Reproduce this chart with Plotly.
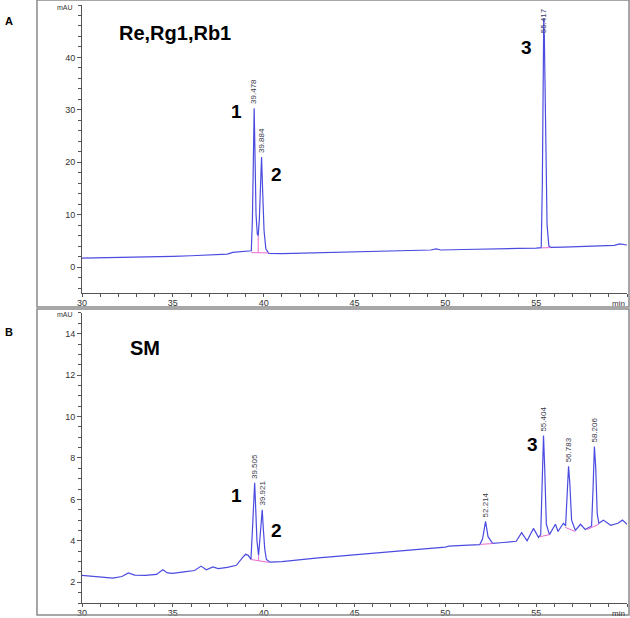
import plotly.graph_objects as go
from plotly.subplots import make_subplots

# Panel A: standards Re, Rg1, Rb1 (time in min, signal in mAU)
time_a = [30.0, 31.0, 32.0, 33.0, 34.0, 35.0, 36.0, 37.0, 37.5, 38.0, 38.3, 38.6,
          39.0, 39.25, 39.32, 39.38, 39.44, 39.478, 39.52, 39.58, 39.65, 39.70,
          39.76, 39.83, 39.884, 39.94, 40.02, 40.12, 40.28, 41.0, 42.0, 43.0, 44.0,
          45.0, 46.0, 47.0, 48.0, 49.2, 49.5, 49.75, 51.0, 52.0, 53.0, 54.0, 55.0,
          55.28, 55.34, 55.39, 55.417, 55.45, 55.52, 55.60, 55.70, 55.8, 56.5,
          57.5, 58.5, 59.3, 59.6, 59.8, 60.0]
signal_a = [1.7, 1.75, 1.8, 1.85, 1.95, 2.05, 2.15, 2.25, 2.3, 2.45, 2.8, 2.9,
            2.95, 3.0, 3.1, 9.0, 24.0, 30.3, 22.0, 10.0, 6.3, 6.0,
            9.0, 17.0, 21.0, 15.0, 7.0, 3.5, 2.6, 2.55, 2.65, 2.75, 2.85,
            2.9, 3.0, 3.05, 3.15, 3.25, 3.45, 3.25, 3.35, 3.45, 3.5, 3.55, 3.6,
            3.7, 16.0, 44.0, 47.5, 44.0, 25.0, 8.0, 4.0, 3.75, 3.8,
            3.9, 4.0, 4.15, 4.4, 4.25, 4.2]

# Panel B: sample SM
time_b = [30.0, 30.4, 31.0, 31.7, 32.2, 32.55, 32.9, 33.5, 34.1, 34.45, 34.7, 35.0,
          35.6, 36.2, 36.55, 36.85, 37.2, 37.5, 38.0, 38.5, 38.8, 39.0, 39.15,
          39.3, 39.38, 39.45, 39.505, 39.56, 39.63, 39.72, 39.80, 39.87, 39.921,
          39.98, 40.06, 40.15, 40.35, 41.0, 42.0, 43.0, 44.0, 45.0, 46.0, 47.0,
          48.0, 49.0, 50.0, 50.2, 51.0, 51.9, 52.05, 52.214, 52.35, 52.6, 53.2,
          53.9, 54.2, 54.5, 54.85, 55.13, 55.25, 55.33, 55.404, 55.47, 55.56,
          55.73, 56.06, 56.2, 56.5, 56.62, 56.7, 56.783, 56.85, 56.95, 57.16,
          57.44, 57.7, 58.05, 58.13, 58.206, 58.28, 58.36, 58.45, 58.7, 59.1,
          59.5, 59.75, 60.0]
signal_b = [2.33, 2.3, 2.22, 2.2, 2.28, 2.45, 2.35, 2.33, 2.38, 2.6, 2.45, 2.43,
            2.5, 2.57, 2.78, 2.6, 2.74, 2.66, 2.72, 2.82, 3.15, 3.35, 3.3,
            3.1, 4.5, 6.2, 6.8, 5.6, 4.0, 3.3, 4.3, 5.3, 5.5,
            4.6, 3.6, 3.1, 2.97, 3.0, 3.1, 3.18, 3.25, 3.32, 3.38, 3.45,
            3.55, 3.62, 3.7, 3.75, 3.78, 3.82, 4.1, 4.94, 4.2, 3.88, 3.92,
            3.98, 4.4, 4.0, 4.6, 4.17, 4.3, 6.5, 9.08, 7.5, 4.8,
            4.3, 4.8, 4.45, 4.85, 4.72, 6.2, 7.6, 6.8, 5.0, 4.5,
            4.8, 4.55, 4.72, 6.5, 8.55, 7.5, 5.3, 4.85, 5.0, 4.75,
            4.85, 5.0, 4.8]

# integration baselines (pairs of points, None separates segments)
base_time_a = [39.32, 40.28, None, 39.70, 39.70, None, 55.28, 55.78]
base_sig_a = [2.75, 2.7, None, 6.0, 2.72, None, 3.65, 3.7]
base_time_b = [39.3, 40.3, None, 39.72, 39.72, None, 51.95, 52.6, None, 55.2, 55.75,
               None, 56.6, 57.15, None, 57.8, 58.45]
base_sig_b = [3.1, 2.96, None, 3.3, 3.03, None, 3.83, 3.87, None, 4.2, 4.3,
              None, 4.65, 4.45, None, 4.55, 4.8]

peak_rt_a = [39.478, 39.884]
peak_h_a = [30.3, 21.0]
peak_rt_b = [39.505, 39.921, 52.214, 55.404, 56.783, 58.206]
peak_h_b = [6.8, 5.5, 4.94, 9.08, 7.6, 8.55]

x_ticks = [30, 35, 40, 45, 50, 55]
y_ticks_a = [0, 10, 20, 30, 40]
y_ticks_b = [2, 4, 6, 8, 10, 12, 14]

LINE = "#4b4be0"
PINK = "#ea6ad2"
FONT = "Arial, Liberation Sans, sans-serif"

fig = make_subplots(rows=2, cols=1)

fig.add_trace(go.Scatter(x=time_a, y=signal_a, mode="lines",
                         line=dict(color=LINE, width=1.2)), row=1, col=1)
fig.add_trace(go.Scatter(x=base_time_a, y=base_sig_a, mode="lines",
                         line=dict(color=PINK, width=1)), row=1, col=1)
fig.add_trace(go.Scatter(x=time_b, y=signal_b, mode="lines",
                         line=dict(color=LINE, width=1.2)), row=2, col=1)
fig.add_trace(go.Scatter(x=base_time_b, y=base_sig_b, mode="lines",
                         line=dict(color=PINK, width=1)), row=2, col=1)

axis_common = dict(showline=True, linecolor="#555", linewidth=1, ticks="outside",
                   tickcolor="#555", ticklen=4, showgrid=False, zeroline=False,
                   automargin=False,
                   tickfont=dict(family=FONT, size=9, color="#333"))
xa = dict(axis_common, range=[30, 60], tickvals=x_ticks, ticklen=3,
          ticklabelstandoff=-2,
          minor=dict(dtick=1, ticks="outside", ticklen=3, tickcolor="#555"))
fig.update_xaxes(xa)
fig.update_xaxes(domain=[0, 1], row=1, col=1)
fig.update_xaxes(domain=[0, 1], row=2, col=1)
fig.update_yaxes(axis_common)
fig.update_yaxes(range=[-5, 50], tickvals=y_ticks_a, domain=[0.518, 1],
                 minor=dict(dtick=2, ticks="outside", ticklen=3, tickcolor="#555"),
                 row=1, col=1)
fig.update_yaxes(range=[1, 15], tickvals=y_ticks_b, domain=[0, 0.485],
                 minor=dict(dtick=0.5, ticks="outside", ticklen=3, tickcolor="#555"),
                 row=2, col=1)

ann = []
# retention time labels
for rt, h in zip(peak_rt_a, peak_h_a):
    ann.append(dict(x=rt, y=h, xref="x", yref="y", text=f"{rt:.3f}", textangle=-90,
                    showarrow=False, xanchor="center", yanchor="bottom", yshift=2,
                    font=dict(family=FONT, size=8, color="#3a3a4a")))
ann.append(dict(x=55.417, y=49.8, xref="x", yref="y", text="55.417", textangle=-90,
                showarrow=False, xanchor="center", yanchor="top",
                font=dict(family=FONT, size=8, color="#3a3a6a")))
for rt, h in zip(peak_rt_b, peak_h_b):
    ann.append(dict(x=rt, y=h, xref="x2", yref="y2", text=f"{rt:.3f}", textangle=-90,
                    showarrow=False, xanchor="center", yanchor="bottom", yshift=2,
                    font=dict(family=FONT, size=8, color="#3a3a4a")))

big = dict(family=FONT, size=19, color="black")
for txt, x, y, xr, yr in [("1", 38.53, 29.7, "x", "y"), ("2", 40.68, 17.7, "x", "y"),
                          ("3", 54.49, 41.9, "x", "y"),
                          ("1", 38.53, 6.21, "x2", "y2"), ("2", 40.68, 4.52, "x2", "y2"),
                          ("3", 54.82, 8.63, "x2", "y2")]:
    ann.append(dict(x=x, y=y, xref=xr, yref=yr, text=f"<b>{txt}</b>", showarrow=False,
                    font=big))
ann.append(dict(x=35.12, y=44.6, xref="x", yref="y", text="<b>Re,Rg1,Rb1</b>",
                showarrow=False, font=dict(family=FONT, size=20, color="black")))
ann.append(dict(x=33.47, y=13.31, xref="x2", yref="y2", text="<b>SM</b>",
                showarrow=False, font=dict(family=FONT, size=20, color="black")))

# axis unit labels
for yr in ["y domain", "y2 domain"]:
    ann.append(dict(x=-0.012, y=1, xref="paper", yref=yr, text="mAU", showarrow=False,
                    xanchor="right", yanchor="middle", yshift=-2,
                    font=dict(family=FONT, size=7, color="#333")))
for yr in ["y domain", "y2 domain"]:
    ann.append(dict(x=1.0, y=0, xref="paper", yref=yr, text="min", showarrow=False,
                    xanchor="right", yanchor="top", yshift=-4,
                    font=dict(family=FONT, size=8, color="#333")))

# panel letters
ann.append(dict(x=-0.145, y=1.0 - 8 / 598, xref="paper", yref="paper", text="<b>A</b>",
                showarrow=False, xanchor="left", yanchor="top",
                font=dict(family=FONT, size=11, color="black")))
ann.append(dict(x=-0.145, y=(603 - 324) / 598, xref="paper", yref="paper", text="<b>B</b>",
                showarrow=False, xanchor="left", yanchor="top",
                font=dict(family=FONT, size=11, color="black")))

shapes = [
    dict(type="rect", xref="paper", yref="paper", x0=-0.0826, x1=1.0037,
         y0=(603 - 307) / 598, y1=(603 - 0) / 598, line=dict(color="#8a8a8a", width=1.5)),
    dict(type="rect", xref="paper", yref="paper", x0=-0.0826, x1=1.0037,
         y0=(603 - 615) / 598, y1=(603 - 309) / 598, line=dict(color="#8a8a8a", width=1.5)),
]

fig.update_layout(
    width=630, height=618,
    margin=dict(l=82, r=3, t=5, b=15, autoexpand=False),
    plot_bgcolor="white", paper_bgcolor="white",
    showlegend=False,
    annotations=ann, shapes=shapes,
    font=dict(family=FONT),
)

# page has a default 8px body margin; drop it so the figure fills the window
fig.write_html("out.html", config={"displayModeBar": False},
               post_script="document.body.style.margin='0';document.body.style.overflow='hidden';")
